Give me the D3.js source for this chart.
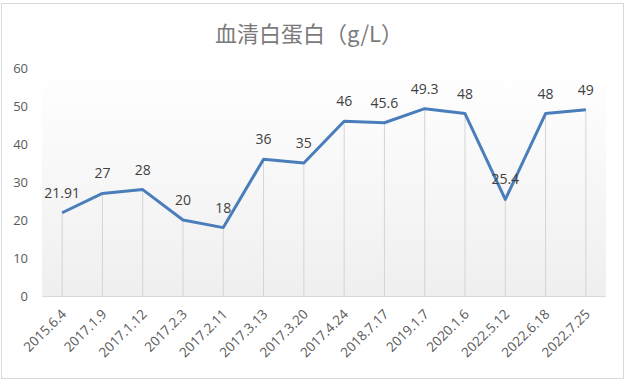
<!DOCTYPE html>
<html>
<head>
<meta charset="utf-8">
<script src="https://cdn.jsdelivr.net/npm/d3@7"></script>
<style>
  body { margin: 0; background: #fff; }
  svg { display: block; }
</style>
</head>
<body>
<script>
// data
var dates = ["2015.6.4", "2017.1.9", "2017.1.12", "2017.2.3", "2017.2.11", "2017.3.13", "2017.3.20",
  "2017.4.24", "2018.7.17", "2019.1.7", "2020.1.6", "2022.5.12", "2022.6.18", "2022.7.25"];
var albumin = [21.91, 27, 28, 20, 18, 36, 35, 46, 45.6, 49.3, 48, 25.4, 48, 49];
var yTicks = [0, 10, 20, 30, 40, 50, 60];
var title = "血清白蛋白（g/L）";

var W = 625, H = 382;
var plotL = 42, plotR = 606, plotT = 68, plotB = 296;
var font = "'Open Sans', 'Noto Sans'";

var svg = d3.select("body").append("svg")
  .attr("width", W)
  .attr("height", H);

// chart border
svg.append("rect")
  .attr("x", 1.5).attr("y", 3.5)
  .attr("width", 622).attr("height", 375)
  .attr("fill", "#fff")
  .attr("stroke", "#d9d9d9");

// plot background gradient
var grad = svg.append("defs").append("linearGradient")
  .attr("id", "bg").attr("x1", 0).attr("y1", 0).attr("x2", 0).attr("y2", 1);
grad.append("stop").attr("offset", "0%").attr("stop-color", "#ffffff");
grad.append("stop").attr("offset", "100%").attr("stop-color", "#efefef");

var x = d3.scaleBand().domain(dates).range([plotL, plotR]);
var y = d3.scaleLinear().domain([0, 60]).range([plotB, plotT]);

svg.append("rect")
  .attr("x", plotL).attr("y", plotT)
  .attr("width", plotR - plotL).attr("height", plotB - plotT)
  .attr("fill", "url(#bg)");

// title
svg.append("text")
  .attr("x", 309).attr("y", 42)
  .attr("text-anchor", "middle")
  .style("font-family", "'Noto Sans CJK SC', 'Noto Sans'")
  .style("font-size", "22px")
  .style("fill", "#7a7a7a")
  .text(title);

// y axis labels
svg.selectAll(".ylab")
  .data(yTicks)
  .enter()
  .append("text")
    .attr("class", "ylab")
    .attr("x", 28)
    .attr("y", function(d) { return y(d) + 5; })
    .attr("text-anchor", "end")
    .style("font-family", font)
    .style("font-size", "13px")
    .style("fill", "#595959")
    .text(function(d) { return d; });

var cx = function(d, i) { return x(dates[i]) + x.bandwidth() / 2; };

// drop lines
svg.selectAll(".drop")
  .data(albumin)
  .enter()
  .append("line")
    .attr("class", "drop")
    .attr("x1", cx).attr("x2", cx)
    .attr("y1", function(d) { return y(d); })
    .attr("y2", plotB)
    .attr("stroke", "#d4d4d4")
    .attr("stroke-width", 1);

// x axis line
svg.append("line")
  .attr("x1", plotL).attr("x2", plotR)
  .attr("y1", plotB + 0.5).attr("y2", plotB + 0.5)
  .attr("stroke", "#d9d9d9");

// x labels, rotated
svg.selectAll(".xlab")
  .data(dates)
  .enter()
  .append("text")
    .attr("class", "xlab")
    .attr("text-anchor", "end")
    .attr("transform", function(d) {
      return "translate(" + (x(d) + x.bandwidth() / 2 + 5) + "," + (plotB + 19) + ") rotate(-45)";
    })
    .style("font-family", font)
    .style("font-size", "13.5px")
    .style("fill", "#595959")
    .text(function(d) { return d; });

// the line
var line = d3.line()
  .x(cx)
  .y(function(d) { return y(d); });

svg.append("path")
  .datum(albumin)
  .attr("d", line)
  .attr("fill", "none")
  .attr("stroke", "#4a7ebb")
  .attr("stroke-width", 3)
  .attr("stroke-linejoin", "round");

// data labels
svg.selectAll(".vlab")
  .data(albumin)
  .enter()
  .append("text")
    .attr("class", "vlab")
    .attr("x", cx)
    .attr("y", function(d) { return y(d) - 15; })
    .attr("text-anchor", "middle")
    .style("font-family", font)
    .style("font-size", "14px")
    .style("fill", "#404040")
    .text(function(d) { return d; });
</script>
</body>
</html>
